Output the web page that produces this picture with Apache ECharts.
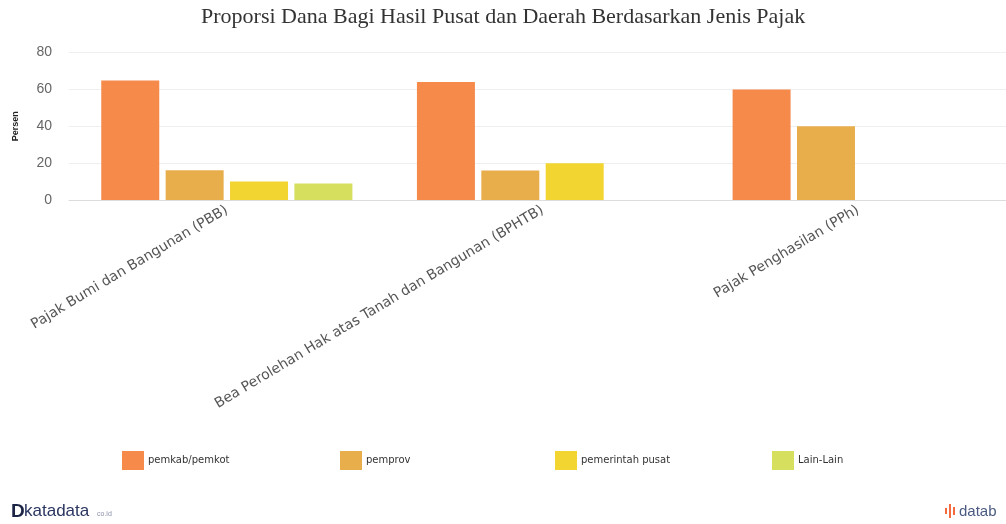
<!DOCTYPE html>
<html>
<head>
<meta charset="utf-8">
<script src="https://cdn.jsdelivr.net/npm/echarts@6/dist/echarts.min.js"></script>
<style>
html,body{margin:0;padding:0;background:#fff;overflow:hidden;width:1006px;height:524px;}
#chart{width:1020px;height:524px;}
</style>
</head>
<body>
<div id="chart"></div>
<script>
var titleText = 'Proporsi Dana Bagi Hasil Pusat dan Daerah Berdasarkan Jenis Pajak';
var categories = ['Pajak Bumi dan Bangunan (PBB)', 'Bea Perolehan Hak atas Tanah dan Bangunan (BPHTB)', 'Pajak Penghasilan (PPh)'];
var seriesNames = ['pemkab/pemkot', 'pemprov', 'pemerintah pusat', 'Lain-Lain'];
var pemkab = [64.8, 64, 60];
var pemprov = [16.2, 16, 40];
var pusat = [10, 20, null];
var lain = [9, null, null];
var yTicks = [0, 20, 40, 60, 80];
var colors = ['#F58A4B', '#E8AE4C', '#F3D532', '#D6DF5E'];

var chart = echarts.init(document.getElementById('chart'), null, {renderer: 'canvas'});
var dataSets = [pemkab, pemprov, pusat, lain];
var series = dataSets.map(function (d, i) {
  return {
    name: seriesNames[i],
    type: 'bar',
    data: d,
    barWidth: 58,
    barGap: '11%',
    itemStyle: {color: colors[i]}
  };
});
var legendLefts = [117, 335, 550, 767];
var legends = seriesNames.map(function (n, i) {
  return {
    data: [n],
    left: legendLefts[i],
    top: 446,
    icon: 'rect',
    itemWidth: 22,
    itemHeight: 19,
    itemGap: 5,
    textStyle: {fontFamily: 'DejaVu Sans', fontSize: 10, color: '#333', padding: [0, 0, 0, -1]},
    selectedMode: false
  };
});
chart.setOption({
  animation: false,
  color: colors,
  title: {
    text: titleText,
    left: 196,
    top: 1,
    textStyle: {fontFamily: 'Liberation Serif', fontSize: 22, fontWeight: 'normal', color: '#333'}
  },
  legend: legends,
  grid: {left: 69, right: 4, top: 52.5, height: 147.5, containLabel: false},
  xAxis: {
    type: 'category',
    data: categories,
    axisLine: {lineStyle: {color: '#dcdcdc'}},
    axisTick: {show: false},
    axisLabel: {rotate: 31, interval: 0, margin: 9, fontFamily: 'DejaVu Sans', fontSize: 14, color: '#555'}
  },
  yAxis: {
    type: 'value',
    min: yTicks[0],
    max: yTicks[yTicks.length - 1],
    interval: 20,
    name: 'Persen',
    nameLocation: 'middle',
    nameGap: 49,
    nameTextStyle: {fontFamily: 'Liberation Sans', fontSize: 9, fontWeight: 'bold', color: '#222'},
    axisLine: {show: false},
    axisTick: {show: false},
    splitLine: {lineStyle: {color: '#efefef'}},
    axisLabel: {margin: 17, fontFamily: 'Liberation Sans', fontSize: 14, color: '#666'}
  },
  series: series,
  graphic: [
    {type: 'text', left: 11, top: 502, style: {text: 'D', font: 'bold 19px "Liberation Sans"', fill: '#1c2445'}},
    {type: 'text', left: 24, top: 503, style: {text: 'katadata', font: '17px "Liberation Sans"', fill: '#2a3560'}},
    {type: 'text', left: 97, top: 511, style: {text: 'co.id', font: '7px "Liberation Sans"', fill: '#8a90a8'}},
    {type: 'rect', left: 945, top: 508, shape: {width: 2, height: 6}, style: {fill: '#F26A3D'}},
    {type: 'rect', left: 949, top: 504, shape: {width: 2, height: 14}, style: {fill: '#F26A3D'}},
    {type: 'rect', left: 953, top: 507, shape: {width: 2, height: 8}, style: {fill: '#F26A3D'}},
    {type: 'text', left: 959, top: 504, style: {text: 'datab', font: '15px "Liberation Sans"', fill: '#4a5a80'}}
  ]
});
</script>
</body>
</html>
